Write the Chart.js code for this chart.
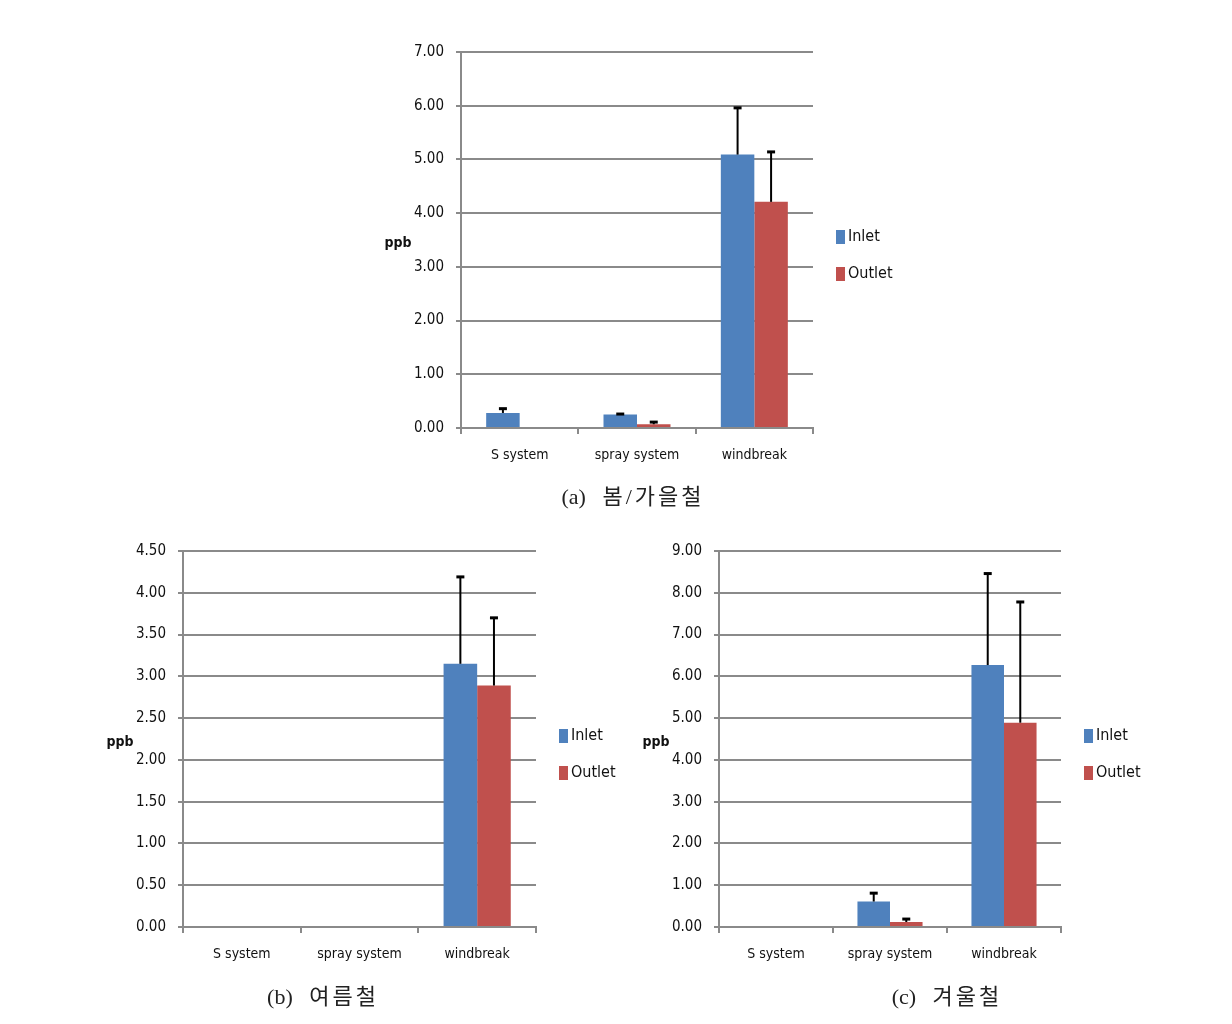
<!DOCTYPE html>
<html lang="ko">
<head>
<meta charset="UTF-8">
<meta name="viewport" content="width=device-width, initial-scale=1.0">
<script src="https://cdn.jsdelivr.net/npm/chart.js"></script>
<title>ppb</title>
<style>
    body {
        margin: 0;
        background: #fff;
        width: 1232px;
        height: 1024px;
        position: relative;
        overflow: hidden;
    }

    .chart-wrapper {
        position: absolute;
    }

    .caption {
        position: absolute;
        font-family: "Liberation Serif", "Noto Sans CJK KR", serif;
        font-size: 22px;
        color: #222;
        transform: translateX(-50%);
        white-space: pre;
    }

    .caption span {
        letter-spacing: 3px;
    }
</style>
</head>
<body>
<div class="chart-wrapper" id="wrapA" style="left:360px;top:30px;width:560px;height:460px"><canvas id="chartA"></canvas></div>
<div class="chart-wrapper" id="wrapB" style="left:80px;top:530px;width:560px;height:460px"><canvas id="chartB"></canvas></div>
<div class="chart-wrapper" id="wrapC" style="left:620px;top:530px;width:590px;height:460px"><canvas id="chartC"></canvas></div>

<div class="caption" style="left:633px;top:478px">(a)   <span>봄/가을철</span></div>
<div class="caption" style="left:323px;top:978px">(b)   <span>여름철</span></div>
<div class="caption" style="left:947px;top:978px">(c)   <span>겨울철</span></div>

<script>
    const categories = ["S system", "spray system", "windbreak"];
    const seriesNames = ["Inlet", "Outlet"];
    const yLabel = "ppb";

    // (a) spring / autumn
    const springInlet = [0.28, 0.25, 5.09];
    const springInletErr = [0.08, 0.01, 0.87];
    const springOutlet = [0, 0.07, 4.21];
    const springOutletErr = [0, 0.04, 0.93];

    // (b) summer
    const summerInlet = [0, 0, 3.15];
    const summerInletErr = [0, 0, 1.04];
    const summerOutlet = [0, 0, 2.89];
    const summerOutletErr = [0, 0, 0.81];

    // (c) winter
    const winterInlet = [0, 0.61, 6.27];
    const winterInletErr = [0, 0.20, 2.19];
    const winterOutlet = [0, 0.12, 4.89];
    const winterOutletErr = [0, 0.07, 2.89];

    const blue = "#4F81BD";
    const red = "#C0504D";
    const gridColor = "#8a8a8a";
    const fontFamily = "'Liberation Sans Narrow', 'DejaVu Sans Condensed', sans-serif";

    Chart.defaults.font.family = fontFamily;
    Chart.defaults.font.size = 14;
    Chart.defaults.color = "#111";

    // error bars (upper only), side legend and horizontal "ppb" label
    const extras = {
        id: "extras",
        afterDatasetsDraw(chart) {
            const ctx = chart.ctx;
            const yScale = chart.scales.y;
            ctx.save();
            ctx.strokeStyle = "#000";
            chart.data.datasets.forEach((ds, i) => {
                const meta = chart.getDatasetMeta(i);
                meta.data.forEach((bar, j) => {
                    const err = ds.errors[j];
                    if (!err) return;
                    const top = yScale.getPixelForValue(ds.data[j] + err);
                    ctx.lineWidth = 2;
                    ctx.beginPath();
                    ctx.moveTo(bar.x, bar.y);
                    ctx.lineTo(bar.x, top);
                    ctx.stroke();
                    ctx.lineWidth = 3;
                    ctx.beginPath();
                    ctx.moveTo(bar.x - 4, top);
                    ctx.lineTo(bar.x + 4, top);
                    ctx.stroke();
                });
            });
            ctx.restore();
        },
        afterDraw(chart) {
            const ctx = chart.ctx;
            const area = chart.chartArea;
            const mid = (area.top + area.bottom) / 2;
            ctx.save();
            ctx.textBaseline = "middle";
            ctx.fillStyle = "#111";
            ctx.font = "bold 14px " + fontFamily;
            ctx.textAlign = "center";
            ctx.fillText(yLabel, area.left - 63, mid + 3);

            ctx.font = "16px " + fontFamily;
            ctx.textAlign = "left";
            chart.data.datasets.forEach((ds, i) => {
                const cy = mid - 3 + i * 37;
                const kx = area.right + 23;
                ctx.fillStyle = ds.backgroundColor;
                ctx.fillRect(kx, cy - 7, 9, 14);
                ctx.fillStyle = "#111";
                ctx.fillText(ds.label, kx + 12, cy);
            });
            ctx.restore();
        }
    };

    const makeChart = (canvasId, box, plot, inlet, inletErr, outlet, outletErr, maxY, stepY) => {
        const yWidth = plot.left - box.left;
        const xHeight = box.top + box.height - plot.bottom;
        return new Chart(document.getElementById(canvasId), {
            type: "bar",
            data: {
                labels: categories,
                datasets: [
                    { label: seriesNames[0], data: inlet, errors: inletErr, backgroundColor: blue },
                    { label: seriesNames[1], data: outlet, errors: outletErr, backgroundColor: red }
                ]
            },
            options: {
                responsive: true,
                maintainAspectRatio: false,
                animation: false,
                layout: {
                    padding: {
                        top: plot.top - box.top,
                        right: box.left + box.width - plot.right,
                        left: 0,
                        bottom: 0
                    }
                },
                datasets: {
                    bar: { barPercentage: 1, categoryPercentage: 0.571, borderWidth: 0 }
                },
                scales: {
                    x: {
                        afterFit: (s) => { s.height = xHeight; },
                        grid: { drawOnChartArea: false, tickLength: 6, color: gridColor, lineWidth: 2 },
                        border: { color: gridColor, width: 2 },
                        ticks: { padding: 13, maxRotation: 0, autoSkip: false }
                    },
                    y: {
                        min: 0,
                        max: maxY,
                        afterFit: (s) => { s.width = yWidth; },
                        grid: { color: gridColor, lineWidth: 2, tickLength: 5 },
                        border: { color: gridColor, width: 2 },
                        ticks: {
                            stepSize: stepY,
                            padding: 12,
                            font: { size: 15 },
                            callback: (v) => Number(v).toFixed(2)
                        }
                    }
                },
                plugins: {
                    legend: { display: false },
                    tooltip: { enabled: false }
                }
            },
            plugins: [extras]
        });
    };

    makeChart("chartA",
        { left: 360, top: 30, width: 560, height: 460 },
        { left: 461, top: 52, right: 813, bottom: 428 },
        springInlet, springInletErr, springOutlet, springOutletErr, 7, 1);

    makeChart("chartB",
        { left: 80, top: 530, width: 560, height: 460 },
        { left: 183, top: 551, right: 536, bottom: 927 },
        summerInlet, summerInletErr, summerOutlet, summerOutletErr, 4.5, 0.5);

    makeChart("chartC",
        { left: 620, top: 530, width: 590, height: 460 },
        { left: 719, top: 551, right: 1061, bottom: 927 },
        winterInlet, winterInletErr, winterOutlet, winterOutletErr, 9, 1);
</script>
</body>
</html>
